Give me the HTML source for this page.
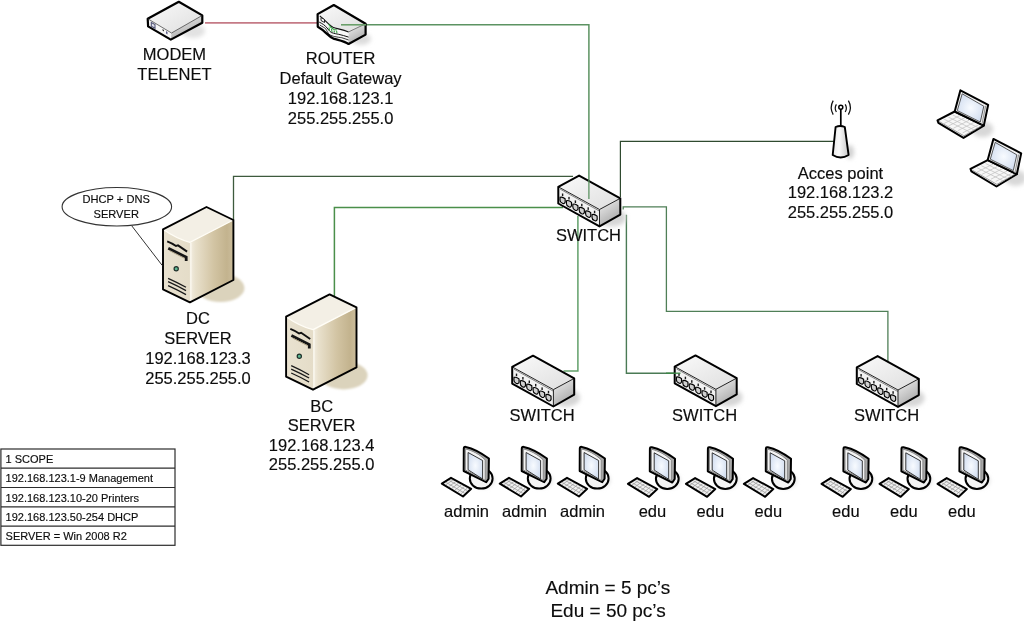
<!DOCTYPE html>
<html><head><meta charset="utf-8">
<style>
html,body{margin:0;padding:0;background:#fff;}
body{width:1024px;height:624px;overflow:hidden;}
svg{display:block;}
text{font-family:"Liberation Sans",sans-serif;fill:#0c0c0c;stroke:#0c0c0c;stroke-width:0.15px;}
svg{will-change:transform;}
</style></head>
<body>
<svg width="1024" height="624" viewBox="0 0 1024 624">
<defs>
  <linearGradient id="swTop" x1="0" y1="0" x2="1" y2="1">
    <stop offset="0" stop-color="#fafafa"/><stop offset="1" stop-color="#dedede"/>
  </linearGradient>
  <linearGradient id="swSide" x1="0" y1="0" x2="0.5" y2="1">
    <stop offset="0" stop-color="#f4f4f4"/><stop offset="1" stop-color="#a8a8a8"/>
  </linearGradient>
  <linearGradient id="srvSide" x1="0" y1="0" x2="1" y2="0">
    <stop offset="0" stop-color="#f3eee2"/><stop offset="0.12" stop-color="#e9e1cd"/><stop offset="0.55" stop-color="#d2c4a3"/><stop offset="0.85" stop-color="#c3b38e"/><stop offset="1" stop-color="#cbbd9c"/>
  </linearGradient>
  <linearGradient id="srvFront" x1="0" y1="0" x2="1" y2="0">
    <stop offset="0" stop-color="#e9e2d0"/><stop offset="1" stop-color="#ddd3bb"/>
  </linearGradient>
  <radialGradient id="scr" cx="0.5" cy="0.5" r="0.6">
    <stop offset="0" stop-color="#f8fbff"/><stop offset="1" stop-color="#d0dcef"/>
  </radialGradient>
  <linearGradient id="apG" x1="0" y1="0" x2="1" y2="0">
    <stop offset="0" stop-color="#e8e8e8"/><stop offset="0.4" stop-color="#fafafa"/><stop offset="1" stop-color="#c8c8c8"/>
  </linearGradient>
  <filter id="blur15" x="-50%" y="-50%" width="200%" height="200%"><feGaussianBlur stdDeviation="1.3"/></filter>
  <filter id="blur1" x="-50%" y="-50%" width="200%" height="200%"><feGaussianBlur stdDeviation="2"/></filter>

  <!-- SWITCH: origin at top vertex -->
  <g id="switch">
    <ellipse cx="33" cy="42" rx="14" ry="9" fill="#d6d6d6" filter="url(#blur1)"/>
    <path d="M0 0 L41.2 22.7 L20.4 33.9 L-20.8 11.2 Z" fill="url(#swTop)"/>
    <path d="M-20.8 11.2 L20.4 33.9 L20.4 50.8 L-20.8 27.9 Z" fill="#f2f2f2"/>
    <path d="M20.4 33.9 L41.2 22.7 L41.2 39 L20.4 50.8 Z" fill="url(#swSide)"/>
    <path d="M-19 13.5 L20.4 35.5" stroke="#555" stroke-width="0.7" fill="none"/>
    <path d="M-20.8 11.2 L20.4 33.9 L41.2 22.7 M20.4 33.9 L20.4 50.8" stroke="#222" stroke-width="1" fill="none"/>
    <path d="M0 0 L41.2 22.7 L41.2 39 L20.4 50.8 L-20.8 27.9 L-20.8 11.2 Z" stroke="#000" stroke-width="2" fill="none" stroke-linejoin="round"/>
    <g fill="#d0d0d0" stroke="#000" stroke-width="1.15">
      <path d="M-19.0 21.7 Q-16.5 21.0 -14.0 23.2 L-13.9 26.4 Q-14.7 28.6 -16.7 27.7 Q-19.2 26.6 -19.1 24.3 Z"/>
      <path d="M-12.6 25.1 Q-10.1 24.4 -7.6 26.7 L-7.5 29.8 Q-8.3 32.1 -10.3 31.2 Q-12.8 30.0 -12.7 27.8 Z"/>
      <path d="M-6.2 28.6 Q-3.7 27.9 -1.2 30.1 L-1.1 33.3 Q-1.9 35.5 -3.9 34.6 Q-6.4 33.5 -6.3 31.2 Z"/>
      <path d="M0.2 32.0 Q2.7 31.3 5.2 33.6 L5.3 36.7 Q4.5 39.0 2.5 38.1 Q0.0 36.9 0.1 34.7 Z"/>
      <path d="M6.6 35.5 Q9.1 34.8 11.6 37.0 L11.7 40.2 Q10.9 42.4 8.9 41.5 Q6.4 40.4 6.5 38.1 Z"/>
      <path d="M13.0 38.9 Q15.5 38.2 18.0 40.5 L18.1 43.6 Q17.3 45.9 15.3 45.0 Q12.8 43.8 12.9 41.6 Z"/>
    </g>
    <g fill="#1a1a1a">
      <rect x="-17.2" y="17.9" width="1.4" height="2.6"/>
      <rect x="-10.8" y="21.3" width="1.4" height="2.6"/>
      <rect x="-4.4" y="24.8" width="1.4" height="2.6"/>
      <rect x="2.0" y="28.2" width="1.4" height="2.6"/>
      <rect x="8.4" y="31.7" width="1.4" height="2.6"/>
      <rect x="14.8" y="35.1" width="1.4" height="2.6"/>
    </g>
  </g>

  <!-- SERVER: origin top vertex -->
  <g id="server">
    <ellipse cx="14" cy="81" rx="24" ry="14" fill="#dbd3bc" filter="url(#blur15)"/>
    <path d="M0 0 L26.9 13 L26.9 73 L-16.6 95.3 L-43.5 82.3 L-43.5 22.3 Z" fill="url(#srvFront)"/>
    <path d="M-16.6 35.3 L26.9 13 L26.9 73 L-16.6 95.3 Z" fill="url(#srvSide)"/>
    <path d="M0 0 L26.9 13 L-16.6 35.3 Q-30 31.8 -43.5 22.3 Z" fill="#f3efe5"/>
    <path d="M-43.5 22.3 Q-30 31.8 -16.6 35.3 L26.9 13" stroke="#fffdf6" stroke-width="1.3" fill="none"/>
    <path d="M-15.6 36 L-15.6 94.5" stroke="#fbf8f0" stroke-width="1.2"/>
    <path d="M0 0 L26.9 13 L26.9 73 L-16.6 95.3 L-43.5 82.3 L-43.5 22.3 Z" stroke="#000" stroke-width="1.9" fill="none" stroke-linejoin="round"/>
    <!-- drive slots -->
    <path d="M-39.3 34.4 Q-34 36.5 -30.5 39 L-28.5 38.4 Q-24 41.5 -19.4 44.6" stroke="#111" stroke-width="1.9" fill="none"/>
    <path d="M-38.2 41.2 L-20.3 50.2 L-20.3 54" stroke="#151515" stroke-width="2.8" fill="none"/>
    <path d="M-37 43.6 L-21.5 51.5" stroke="#a89c80" stroke-width="1"/>
    <circle cx="-30.3" cy="61.8" r="2.1" fill="#5fb893" stroke="#1f2f2a" stroke-width="1.2"/>
    <g stroke="#1a1a1a" stroke-width="1.3" fill="none">
      <path d="M-38.4 71.3 Q-29 75.5 -20.5 80.3"/>
      <path d="M-38.4 74.7 Q-29 78.9 -20.5 83.6"/>
      <path d="M-38.4 78.6 Q-29 82.8 -20.5 87.6"/>
    </g>
  </g>

  <!-- PC: origin monitor top-left -->
  <g id="pc">
    <ellipse cx="19" cy="33" rx="11" ry="8" fill="#e2e2e2" filter="url(#blur1)"/>
    <g transform="translate(-1,-0.4)"><path d="M-21.6 36.75 L-12.4 31 L7.8 42 L-0.4 49.7 Z" fill="#f0f0f0" stroke="#000" stroke-width="2" stroke-linejoin="round"/>
    <path d="M-17.3 35.6 L1.2 46.4 M-14.2 33.6 L3.9 43.9 M-17.5 37.9 L-10.5 33.2 M-14.5 39.7 L-7.6 34.8 M-11.5 41.5 L-4.7 36.4 M-8.5 43.3 L-1.8 38.0 M-5.4 45.1 L1.1 39.6 M-2.4 47.0 L4.0 41.2" stroke="#9a9a9a" stroke-width="0.75" fill="none"/></g>
    <ellipse cx="16.8" cy="31.3" rx="11.4" ry="10.1" fill="#f4f4f4" stroke="#000" stroke-width="2"/>
    <path d="M-0.6 1.3 Q-0.6 -0.7 1.4 -0.3 C9 1.3 18 6.5 24.5 11.3 L24.2 31.5 L21.8 35 L-0.7 23.8 Z" fill="#a8a8a8" stroke="#000" stroke-width="2" stroke-linejoin="round"/>
    <path d="M0.9 1.7 C8 3.3 15 6.9 20.8 12.7 L20.8 33.1 L0.9 22.7 Z" fill="#f3f3f3" stroke="#888" stroke-width="1"/>
    <path d="M3.7 5.3 L18.2 13.3 L18.2 31.8 L3.7 22.6 Z" fill="url(#scr)" stroke="#222" stroke-width="0.9"/>
  </g>

  <!-- LAPTOP: origin screen top-left outer -->
  <g id="laptop">
    <ellipse cx="22" cy="39" rx="11" ry="8" fill="#d8d8d8" filter="url(#blur1)"/>
    <path d="M-5.7 21.2 L-22.9 30 L-22 32.5 L3.1 47.6 L23.4 35.3 Z" fill="#f7f7f7" stroke="#000" stroke-width="2" stroke-linejoin="round"/>
    <path d="M-21.5 31 L3.5 45.5 L22 35" fill="none" stroke="#777" stroke-width="0.7"/>
    <path d="M-7.8 24.6 L18.0 37.5 M-12.0 26.8 L13.8 39.7 M-16.2 28.9 L9.5 41.8 M-0.3 25.1 L-16.5 33.3 M4.3 27.5 L-11.8 35.6 M9.0 29.8 L-7.1 38.0 M13.7 32.1 L-2.5 40.3 M18.3 34.5 L2.2 42.6" stroke="#c4c4c4" stroke-width="0.8" fill="none"/>
    <path d="M0 0 L27.8 14.5 L23.4 35.3 L-5.7 21.2 Z" fill="#f2f2f2" stroke="#000" stroke-width="2" stroke-linejoin="round"/>
    <path d="M24.5 16 L26 15 L22 34 L21 34.2 Z" fill="#9a9a9a"/>
    <path d="M1.8 3.5 L23.4 15.9 L19.9 31.7 L-3.1 20.3 Z" fill="url(#scr)" stroke="#333" stroke-width="0.8"/>
  </g>
</defs>

<!-- connection lines -->
<g fill="none">
  <path d="M366 24.8 H588.9 V199" stroke="#5c9362" stroke-width="1.5"/>
  <path d="M233.5 220 V176.4 H573" stroke="#3d5a3d" stroke-width="1.3"/>
  <path d="M334.4 296 V207.6 H563" stroke="#4a8f4a" stroke-width="1.5"/>
  <path d="M834 141.4 H620.4 V197" stroke="#2f4a2f" stroke-width="1.2"/>
  <path d="M577.9 216 V371 H563.5" stroke="#62a06a" stroke-width="1.5"/>
  <path d="M623.2 209.5 V206.8 H666.4 V311.3 H887.9 V361" stroke="#4f7f57" stroke-width="1.3"/>
  <path d="M626.4 214.8 V373.2 H680.5" stroke="#4a7a55" stroke-width="1.4"/>
</g>
<path d="M205 22.9 H318" stroke="#c57a86" stroke-width="1.6" fill="none"/>

<!-- modem -->
<g>
  <ellipse cx="193" cy="31" rx="12" ry="7" fill="#e2e2e2" filter="url(#blur1)"/>
  <path d="M178.8 1.8 L202.3 15.4 L171.5 33 L147.7 18.7 Z" fill="url(#swTop)"/>
  <path d="M147.7 18.7 L171.5 33 L170.8 39.6 L148.1 26.4 Z" fill="#f6f6f6"/>
  <path d="M171.5 33 L202.3 15.4 L202.3 22.7 L170.8 39.6 Z" fill="url(#swSide)"/>
  <path d="M178.8 1.8 L202.3 15.4 L202.3 22.7 L170.8 39.6 L148.1 26.4 L147.7 18.7 Z" stroke="#000" stroke-width="2.2" fill="none" stroke-linejoin="round"/>
  <path d="M147.7 18.7 L171.5 33 L202.3 15.4" stroke="#333" stroke-width="0.7" fill="none"/>
  <path d="M151.3 22.5 L155 24.6 L155 28.3 L151.3 26.2 Z" fill="#dfe0ea" stroke="#55587a" stroke-width="1.1"/>
  <path d="M162.5 29 L164 30 L164 31.5 L162.5 30.5 Z" fill="#333"/>
  <path d="M166 31 L167.5 32 L167.5 34.5 L166 33.5 Z" fill="#5a5a8a"/>
</g>

<!-- router -->
<g>
  <ellipse cx="361" cy="39" rx="10" ry="6" fill="#dcdcdc" filter="url(#blur1)"/>
  <path d="M333.8 5 L365.6 23.8 L348.6 31.9 C342 29.5 336 28.5 333 27.3 C329 25 326 21 319.8 15.8 L317.6 14.1 Z" fill="url(#swTop)"/>
  <path d="M317.6 14.1 L319.8 15.8 C326 21 329 25 333 27.3 C336 28.5 342 29.5 348.6 31.9 L348.6 44 C345 41.5 340 40.5 334.2 38.9 C330 37 327 34 326.1 33.1 C323 30 320 28 317.75 26.7 Z" fill="#f7f7f7"/>
  <path d="M348.6 31.9 L365.6 23.8 L365.6 34.6 L348.6 44 Z" fill="url(#swSide)"/>
  <path d="M319.8 15.8 C326 21 329 25 333 27.3 C336 28.5 342 29.5 348.6 31.9" stroke="#111" stroke-width="1.1" fill="none"/>
  <path d="M319.2 22.1 C322 23.5 325 25 327.9 29 C329 30.5 330 31.5 331.3 32.5 C334 33.5 337 34 338.2 34.2 C342 35 345 36 348.6 37.1" stroke="#111" stroke-width="1" fill="none"/>
  <path d="M319.8 25 C322 26.5 325 28 325.5 28.5 C327 31 328 33 329 34.2 C331 35.5 333 36.3 334.8 36.6 C338 37.2 340 37.5 341.7 37.7 C344 38.5 346 39 348.6 40" stroke="#222" stroke-width="0.9" fill="none"/>
  <path d="M333.8 5 L365.6 23.8 L365.6 34.6 L348.6 44 C345 41.5 340 40.5 334.2 38.9 C330 37 327 34 326.1 33.1 C323 30 320 28 317.75 26.7 L317.6 14.1 Z" stroke="#000" stroke-width="2.2" fill="none" stroke-linejoin="round"/>
  <path d="M348.6 31.9 L365.6 23.8" stroke="#333" stroke-width="0.6" fill="none"/>
  <path d="M321 17.5 L324.5 19.5 L324.5 22.5 L321 20.5 Z" fill="#fff" stroke="#111" stroke-width="0.9"/>
  <g stroke="#3aa447" stroke-width="1.1" fill="none">
    <path d="M328.5 24 L331 27.5 L334 29.5 L337 30"/>
    <path d="M329 27.5 L329.5 30.5 M331.5 29 L332 32 M334 30.5 L334.5 32.5 M336.5 31 L337 33"/>
  </g>
</g>
<path d="M341 24.8 H366" stroke="#6a9f6a" stroke-width="1.6" fill="none"/>
<!-- access point -->
<g>
  <ellipse cx="850" cy="152" rx="4" ry="7" fill="#d0d0d0" filter="url(#blur1)"/>
  <path d="M835.6 127 Q840.2 125 844.8 127 L848.6 155 Q840.6 160 832.7 155 Z" fill="url(#apG)" stroke="#000" stroke-width="1.9" stroke-linejoin="round"/>
  <line x1="840.8" y1="109" x2="840.8" y2="126" stroke="#000" stroke-width="1.7"/>
  <circle cx="840.8" cy="107.3" r="2" fill="#fff" stroke="#000" stroke-width="1.5"/>
  <g stroke="#111" stroke-width="1.25" fill="none">
    <path d="M836.4 104.3 Q834 108.2 836.4 112"/>
    <path d="M845.2 104.3 Q847.6 108.2 845.2 112"/>
    <path d="M833.2 100.6 Q829.2 107.6 833.2 114.6"/>
    <path d="M848.4 100.6 Q852.4 107.6 848.4 114.6"/>
  </g>
</g>

<!-- servers -->
<use href="#server" x="206.5" y="207"/>
<use href="#server" x="329.6" y="294.4"/>

<!-- switches -->
<use href="#switch" x="579.1" y="175.6"/>
<use href="#switch" x="533.0" y="355.7"/>
<use href="#switch" x="695.5" y="355.4"/>
<use href="#switch" x="877.6" y="356.1"/>
<!-- lines drawn over switches -->
<g fill="none" stroke-width="1.3">
  <path d="M588.9 180 V199" stroke="#5c9362"/>
  <path d="M666 373.2 H680.5" stroke="#3a8a45"/>
</g>

<!-- PCs -->
<use href="#pc" x="464.4" y="447.2"/>
<use href="#pc" x="522.4" y="447.2"/>
<use href="#pc" x="580.4" y="447.2"/>
<use href="#pc" x="650.5" y="447.5"/>
<use href="#pc" x="708.5" y="447.5"/>
<use href="#pc" x="766.5" y="447.5"/>
<use href="#pc" x="844.1" y="447.5"/>
<use href="#pc" x="902.1" y="447.5"/>
<use href="#pc" x="960.1" y="447.5"/>

<!-- laptops -->
<use href="#laptop" x="960.4" y="90.3"/>
<use href="#laptop" x="993.4" y="138.9"/>

<!-- DHCP ellipse -->
<ellipse cx="116.85" cy="206.75" rx="54.75" ry="19.25" fill="#fff" stroke="#333" stroke-width="1.1"/>
<line x1="131.9" y1="226" x2="162.2" y2="265.4" stroke="#333" stroke-width="1"/>
<text x="116.2" y="202.9" font-size="11.1" text-anchor="middle">DHCP + DNS</text>
<text x="116.2" y="217.7" font-size="11.1" text-anchor="middle">SERVER</text>

<!-- labels -->
<g font-size="16.5" text-anchor="middle">
  <text x="174.45" y="60.2">MODEM</text>
  <text x="174.45" y="79.7">TELENET</text>
  <text x="340.6" y="64.4">ROUTER</text>
  <text x="340.6" y="84.1">Default Gateway</text>
  <text x="340.6" y="104.3">192.168.123.1</text>
  <text x="340.6" y="123.8">255.255.255.0</text>
  <text x="198" y="324.4">DC</text>
  <text x="198" y="344.1">SERVER</text>
  <text x="198" y="363.9">192.168.123.3</text>
  <text x="198" y="383.8">255.255.255.0</text>
  <text x="321.6" y="411.5">BC</text>
  <text x="321.6" y="431.3">SERVER</text>
  <text x="321.6" y="450.7">192.168.123.4</text>
  <text x="321.6" y="470.2">255.255.255.0</text>
  <text x="840.5" y="178.7">Acces point</text>
  <text x="840.5" y="198.4">192.168.123.2</text>
  <text x="840.5" y="217.6">255.255.255.0</text>
  <text x="588.5" y="240.5">SWITCH</text>
  <text x="542.1" y="421.2">SWITCH</text>
  <text x="704.65" y="421.2">SWITCH</text>
  <text x="886.55" y="421.2">SWITCH</text>
  <text x="466.6" y="516.7">admin</text>
  <text x="524.6" y="516.7">admin</text>
  <text x="582.6" y="516.7">admin</text>
  <text x="652.4" y="516.7">edu</text>
  <text x="710.3" y="516.7">edu</text>
  <text x="768.3" y="516.7">edu</text>
  <text x="845.8" y="516.7">edu</text>
  <text x="903.8" y="516.7">edu</text>
  <text x="961.8" y="516.7">edu</text>
</g>
<g font-size="19" text-anchor="middle">
  <text x="607.8" y="594.2">Admin = 5 pc’s</text>
  <text x="608.1" y="617.4">Edu = 50 pc’s</text>
</g>

<!-- table -->
<g fill="none" stroke="#2c2c2c" stroke-width="1.2">
  <rect x="0.9" y="449" width="174.1" height="96.3"/>
  <line x1="1" y1="468.2" x2="175" y2="468.2"/>
  <line x1="1" y1="487.5" x2="175" y2="487.5"/>
  <line x1="1" y1="506.9" x2="175" y2="506.9"/>
  <line x1="1" y1="526.1" x2="175" y2="526.1"/>
</g>
<g font-size="11">
  <text x="5.6" y="463">1 SCOPE</text>
  <text x="5.6" y="482.2">192.168.123.1-9 Management</text>
  <text x="5.6" y="501.5">192.168.123.10-20 Printers</text>
  <text x="5.6" y="520.9">192.168.123.50-254 DHCP</text>
  <text x="5.6" y="540.1">SERVER = Win 2008 R2</text>
</g>
</svg>
</body></html>
